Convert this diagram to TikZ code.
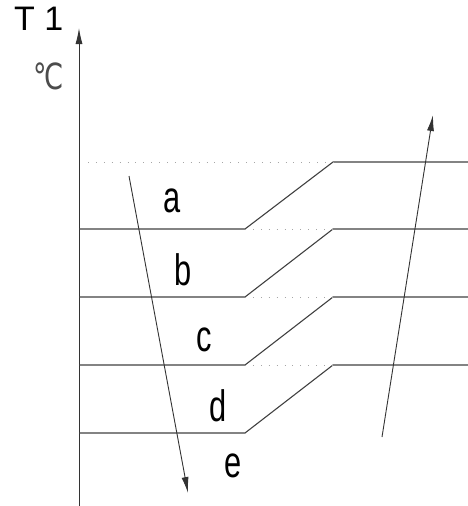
\documentclass[tikz,border=0pt]{standalone}
\usepackage{fontspec}
\setmainfont{Liberation Sans}
\newfontfamily\symfont{DejaVu Sans}
\usetikzlibrary{arrows.meta}
\tikzset{
  ln/.style={draw=black!75, line width=1.1pt},
  dotln/.style={draw=black!35, line width=0.9pt, dash pattern=on 0.9pt off 7pt},
  arr/.style={draw=black!80, line width=0.9pt, -{Latex[length=16pt,width=7pt]}},
  lbl/.style={font=\fontsize{44}{44}\selectfont, xscale=0.7, inner sep=0pt, text=black}
}
\begin{document}
\begin{tikzpicture}[x=1pt,y=-1pt]
\useasboundingbox (0,0) rectangle (468,506);
% axis
\coordinate (ax0) at (79,506);
\coordinate (ax1) at (79,28);
\draw[arr] (ax0) -- (ax1);
\node[font=\fontsize{34}{34}\selectfont, inner sep=0pt, anchor=base west] (t1) at (14,30) {T 1};
\node[font=\symfont\fontsize{36}{36}\selectfont, xscale=0.75, text=black!70, inner sep=0pt, anchor=base west] (unit) at (33,89) {℃};
% levels
\foreach \i/\yl/\yh in {1/229/162, 2/297/229, 3/365/297, 4/433/365} {
  \coordinate (l\i) at (79,\yl);
  \coordinate (k\i) at (245,\yl);
  \coordinate (m\i) at (333,\yh);
  \coordinate (r\i) at (468,\yh);
  \draw[ln] (l\i) -- (k\i) -- (m\i) -- (r\i);
}
\coordinate (d0) at (88,162);
\draw[dotln] (d0) -- (m1);
\foreach \i/\j in {1/2, 2/3, 3/4} {
  \draw[dotln] (k\i) -- (m\j);
}
% labels
\node[lbl] (a) at (172,201) {a};
\node[lbl] (b) at (183,270) {b};
\node[lbl] (c) at (204,340) {c};
\node[lbl] (d) at (218,406) {d};
\node[lbl] (e) at (233,466) {e};
% arrows
\coordinate (da) at (129,176);
\coordinate (db) at (188,493);
\draw[arr] (da) -- (db);
\coordinate (ua) at (382,437);
\coordinate (ub) at (433,115);
\draw[arr] (ua) -- (ub);
\end{tikzpicture}
\end{document}
